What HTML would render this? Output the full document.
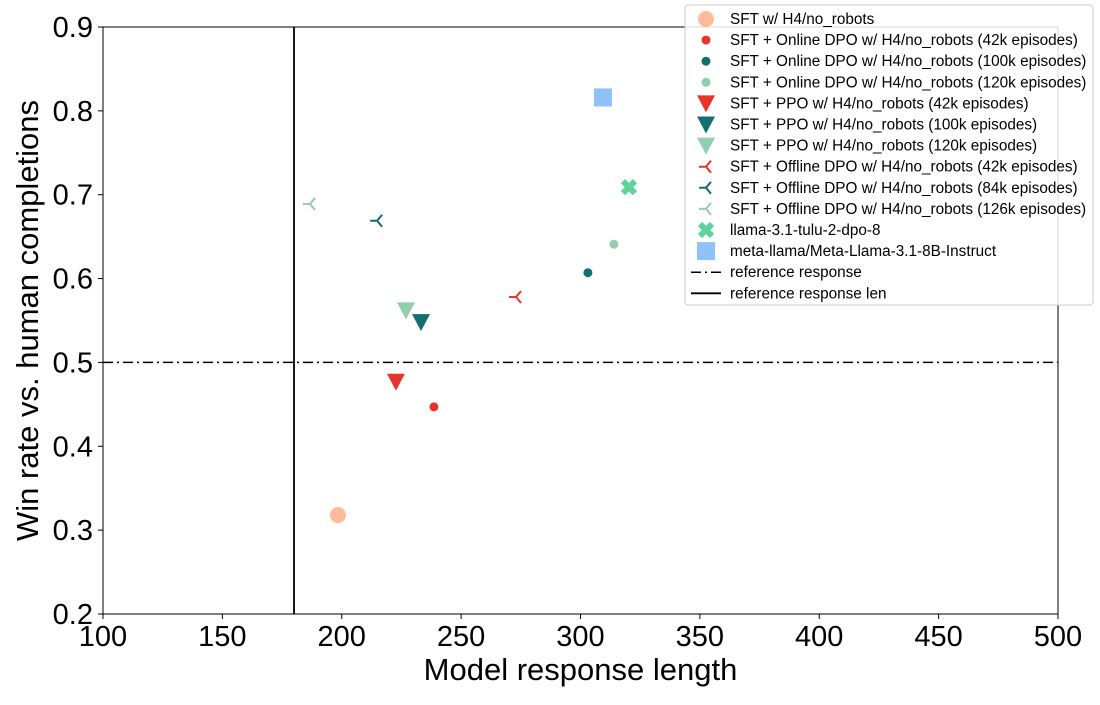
<!DOCTYPE html>
<html><head><meta charset="utf-8"><style>
body{margin:0;background:#fff;}
svg{font-family:"Liberation Sans","DejaVu Sans",sans-serif;}
</style></head><body>
<svg id="chart" width="1100" height="700" xmlns="http://www.w3.org/2000/svg"></svg>
<script>
const seriesNames = ["SFT w/ H4/no_robots","SFT + Online DPO w/ H4/no_robots (42k episodes)","SFT + Online DPO w/ H4/no_robots (100k episodes)","SFT + Online DPO w/ H4/no_robots (120k episodes)","SFT + PPO w/ H4/no_robots (42k episodes)","SFT + PPO w/ H4/no_robots (100k episodes)","SFT + PPO w/ H4/no_robots (120k episodes)","SFT + Offline DPO w/ H4/no_robots (42k episodes)","SFT + Offline DPO w/ H4/no_robots (84k episodes)","SFT + Offline DPO w/ H4/no_robots (126k episodes)","llama-3.1-tulu-2-dpo-8","meta-llama/Meta-Llama-3.1-8B-Instruct"];
const lengths = [198.4,238.6,303.1,314.0,222.7,233.2,226.9,273.0,214.8,186.7,320.3,309.4];
const winRates = [0.318,0.447,0.607,0.641,0.477,0.548,0.562,0.578,0.669,0.689,0.709,0.816];
const markers = ["bigcircle","circle","circle","circle","tri","tri","tri","trileft","trileft","trileft","x","square"];
const colors = ["#ffbb99","#e8352b","#146f75","#94ceb0","#e8352b","#146f75","#94ceb0","#e8352b","#146f75","#94ceb0","#5fd39a","#8fc1fa"];
const xTicks = [100,150,200,250,300,350,400,450,500];
const yTicks = [0.2,0.3,0.4,0.5,0.6,0.7,0.8,0.9];
const refResponse = 0.5;
const refLen = 180;

const NS="http://www.w3.org/2000/svg";
const svg=document.getElementById('chart');
const L=103,R=1058,T=27,B=614;
const sx=v=>L+(v-100)/400*(R-L);
const sy=v=>B-(v-0.2)/0.7*(B-T);
function mk(tag,attrs,parent){const e=document.createElementNS(NS,tag);for(const k in attrs)e.setAttribute(k,attrs[k]);(parent||svg).appendChild(e);return e;}
function marker(type,cx,cy,color,g){
  let e;
  if(type==="bigcircle"){e=mk('circle',{cx,cy,r:8,fill:color},g);}
  else if(type==="circle"){e=mk('circle',{cx,cy,r:4.5,fill:color},g);}
  else if(type==="tri"){e=mk('polygon',{points:`${cx-9},${cy-8} ${cx+9},${cy-8} ${cx},${cy+9}`,fill:color},g);}
  else if(type==="trileft"){e=mk('path',{d:`M${cx},${cy}H${cx-7}M${cx},${cy}L${cx+5},${cy-6}M${cx},${cy}L${cx+5},${cy+6}`,stroke:color,'stroke-width':2,fill:'none'},g);}
  else if(type==="x"){e=mk('path',{d:`M${cx-6},${cy-6}L${cx+6},${cy+6}M${cx+6},${cy-6}L${cx-6},${cy+6}`,stroke:color,'stroke-width':6,fill:'none'},g);}
  else {e=mk('rect',{x:cx-9,y:cy-9,width:18,height:18,fill:color},g);}
  return e;
}
const frame=mk('rect',{x:L,y:T,width:R-L,height:B-T,fill:'none',stroke:'#000','stroke-width':1});


xTicks.forEach(v=>{
  const g=mk('g',{});
  
  
  mk('line',{x1:sx(v),x2:sx(v),y1:B,y2:B+5,stroke:'#000'},g);
  const t=mk('text',{x:sx(v),y:B+32,'font-size':29,'text-anchor':'middle'},g);t.textContent=v;
});
yTicks.forEach(v=>{
  const g=mk('g',{});
  
  
  mk('line',{x1:L-5,x2:L,y1:sy(v),y2:sy(v),stroke:'#000'},g);
  const t=mk('text',{x:L-10,y:sy(v)+10,'font-size':29,'text-anchor':'end'},g);t.textContent=v.toFixed(1);
});
const xt=mk('text',{x:(L+R)/2,y:680,'font-size':31,'text-anchor':'middle'});xt.textContent="Model response length";

const yt=mk('text',{x:0,y:0,'font-size':31,'text-anchor':'middle',transform:`translate(38,${(T+B)/2}) rotate(-90)`});yt.textContent="Win rate vs. human completions";

const hl=mk('line',{x1:L,x2:R,y1:sy(refResponse),y2:sy(refResponse),stroke:'#000','stroke-width':1.5,'stroke-dasharray':'10,4,2,4'});

const vl=mk('line',{x1:sx(refLen),x2:sx(refLen),y1:T,y2:B,stroke:'#000','stroke-width':1.8});

lengths.forEach((v,i)=>{
  const e=marker(markers[i],sx(v),sy(winRates[i]),colors[i]);
  
  
});
const lg=mk('g',{});


mk('rect',{x:685,y:5,width:408,height:300,rx:3,fill:'#fff','fill-opacity':0.85,stroke:'#ccc'},lg);
const legendLabels=seriesNames.concat(["reference response","reference response len"]);
legendLabels.forEach((n,i)=>{
  const y=19+i*21.1;
  const g=mk('g',{},lg);
  
  
  if(i<12){marker(markers[i],706,y,colors[i],g);}
  else if(i===12){mk('line',{x1:691,x2:721,y1:y,y2:y,stroke:'#000','stroke-width':1.5,'stroke-dasharray':'10,4,2,4'},g);}
  else {mk('line',{x1:691,x2:721,y1:y,y2:y,stroke:'#000','stroke-width':1.8},g);}
  const t=mk('text',{x:730,y:y+5,'font-size':15.3},g);t.textContent=n;
});
</script>
</body></html>
